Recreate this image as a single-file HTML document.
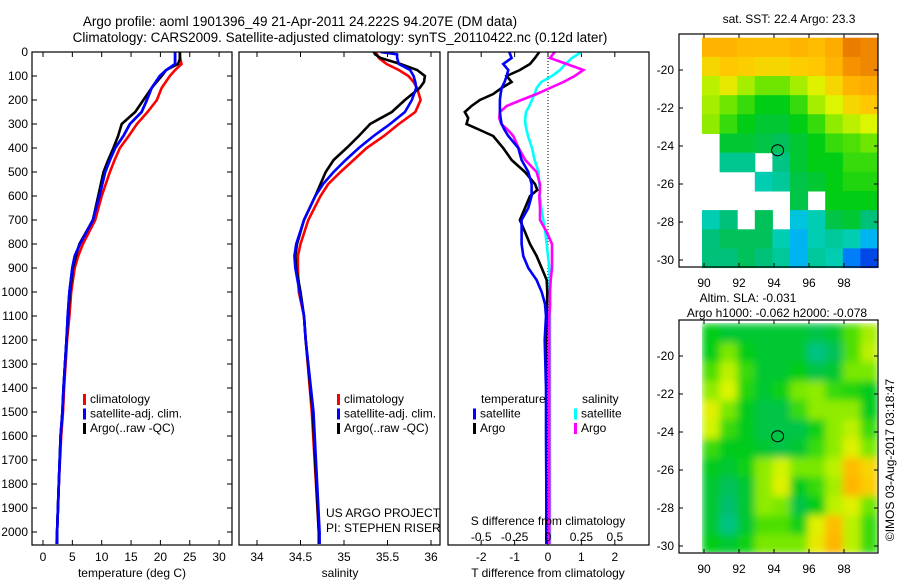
<!DOCTYPE html>
<html><head><meta charset="utf-8"><style>
html,body{margin:0;padding:0;background:#fff;}
svg{display:block;font-family:"Liberation Sans",sans-serif;}
text{font-size:12px;fill:#000;}
</style></head><body>
<svg id="c" width="900" height="580" viewBox="0 0 900 580"></svg>
<script>
// ---- data ----
const tDepth=[0,30,50,75,100,150,200,250,300,350,400,450,500,600,700,800,850,900,1000,1100,1200,1400,1500,1600,1800,2000,2050];
const tClim=[23.3,23.4,23.6,22.5,21.6,20.2,19.4,17.8,16.0,14.6,13.1,12.2,11.4,10.0,8.9,6.8,6.0,5.4,4.8,4.5,4.1,3.6,3.4,3.1,2.7,2.4,2.3];
const tSat=[22.5,22.5,22.5,21.0,19.9,18.5,17.7,16.8,14.8,13.7,12.3,11.4,10.6,9.6,8.5,6.3,5.4,5.0,4.5,4.2,4.0,3.5,3.3,3.0,2.7,2.4,2.4];
const tArgo=[23.3,23.3,23.0,21.0,20.2,18.5,17.1,15.7,13.4,12.8,12.0,11.1,10.3,9.4,8.5,6.2,5.6,5.1,4.6,4.3,4.0,3.5,3.3,3.0,2.7,2.4,2.4];
const sDepth=[0,10,25,50,75,100,125,150,200,250,300,350,400,450,500,550,600,700,800,850,900,1000,1100,1200,1500,2000,2050];
const sClim=[35.36,35.38,35.40,35.49,35.63,35.74,35.80,35.84,35.88,35.82,35.63,35.46,35.26,35.11,34.96,34.82,34.73,34.59,34.50,34.47,34.47,34.48,34.54,34.56,34.63,34.71,34.72];
const sSat=[35.42,35.61,35.61,35.63,35.76,35.80,35.82,35.83,35.78,35.70,35.53,35.34,35.17,35.02,34.88,34.76,34.67,34.54,34.45,34.43,34.44,34.49,34.54,34.56,34.65,34.72,34.72];
const sArgo=[35.34,35.36,35.42,35.65,35.84,35.93,35.92,35.87,35.70,35.55,35.30,35.17,35.03,34.88,34.79,34.73,34.67,34.54,34.46,34.44,34.45,34.50,34.54,34.56,34.64,34.71,34.71];
const dDepth=[0,25,50,75,100,125,150,175,200,225,250,275,300,325,350,400,450,500,550,575,600,650,700,750,800,850,900,950,1000,1050,1100,1200,1400,1600,1800,2000,2050];
const dTSat=[-1.16,-1.09,-1.34,-1.19,-1.24,-1.3,-1.39,-1.42,-1.44,-1.44,-1.44,-1.42,-1.39,-1.3,-1.19,-0.89,-0.79,-0.59,-0.49,-0.49,-0.49,-0.59,-0.79,-0.79,-0.79,-0.74,-0.59,-0.34,-0.19,-0.09,-0.06,-0.1,-0.06,-0.06,-0.05,-0.05,-0.05];
const dTArgo=[-0.26,-0.39,-0.54,-0.84,-1.24,-1.09,-1.39,-1.64,-2.04,-2.29,-2.49,-2.39,-2.44,-2.04,-1.64,-1.34,-1.09,-0.69,-0.39,-0.32,-0.54,-0.69,-0.84,-0.69,-0.54,-0.34,-0.19,-0.04,-0.02,-0.03,-0.04,-0.05,-0.05,-0.05,-0.05,-0.05,-0.05];
const dSSat=[0.25,0.18,0.13,0.09,0.03,-0.05,-0.085,-0.1,-0.12,-0.14,-0.165,-0.17,-0.17,-0.16,-0.15,-0.12,-0.1,-0.07,-0.065,-0.06,-0.06,-0.05,-0.035,-0.02,-0.01,0,0.01,0.012,0.015,0.015,0.015,0.015,0.015,0.015,0.015,0.015,0.015];
const dSArgo=[0.05,0.015,0.14,0.265,0.2,0.115,0.015,-0.085,-0.2,-0.31,-0.36,-0.365,-0.35,-0.3,-0.26,-0.22,-0.17,-0.085,-0.06,-0.06,-0.065,-0.06,-0.06,-0.01,0.03,0.03,0.03,0.02,0.015,0.015,0.01,0.01,0.01,0.01,0.01,0.01,0.01];
const depthTicks=[0,100,200,300,400,500,600,700,800,900,1000,1100,1200,1300,1400,1500,1600,1700,1800,1900,2000];
const tTicks=[0,5,10,15,20,25,30];
const sTicks=[34,34.5,35,35.5,36];
const dTTicks=[-2,-1,0,1,2];
const dSTicks=[-0.5,-0.25,0,0.25,0.5];
const dSTickLabels=["-0.5","-0.25","0","0.25","0.5"];
const lonTicks=[90,92,94,96,98];
const latTicks=[-20,-22,-24,-26,-28,-30];
const N=null;
const sstGrid=[
[0.8,0.8,0.78,0.78,0.78,0.8,0.78,0.82,0.92,0.9],
[0.72,0.75,0.74,0.72,0.72,0.74,0.75,0.8,0.88,0.9],
[0.62,0.68,0.6,0.55,0.55,0.6,0.66,0.72,0.8,0.82],
[0.6,0.55,0.5,0.45,0.45,0.5,0.6,0.65,0.72,0.75],
[0.58,0.5,0.45,0.42,0.42,0.45,0.5,0.58,0.62,0.65],
[N,0.42,0.42,0.4,0.38,0.42,0.45,0.5,0.52,0.55],
[N,0.33,0.33,N,0.34,0.42,0.45,0.45,0.5,0.5],
[N,N,N,0.3,0.32,0.4,0.42,0.45,0.48,0.48],
[N,N,N,N,N,0.4,N,0.45,0.45,0.45],
[0.3,0.35,N,0.38,N,0.25,0.3,0.4,0.42,0.35],
[0.35,0.38,0.38,0.38,0.3,0.22,0.3,0.32,0.3,0.22],
[0.35,0.35,0.38,0.35,0.32,0.22,0.32,0.3,0.15,0.08]];
const slaGrid=[
[0.45,0.42,0.42,0.42,0.42,0.42,0.4,0.42,0.52,0.6],
[0.45,0.56,0.45,0.42,0.42,0.42,0.34,0.38,0.52,0.62],
[0.52,0.62,0.5,0.42,0.42,0.45,0.4,0.42,0.56,0.56],
[0.58,0.65,0.48,0.42,0.46,0.56,0.58,0.5,0.48,0.44],
[0.66,0.56,0.44,0.4,0.4,0.5,0.58,0.58,0.58,0.44],
[0.64,0.5,0.44,0.4,0.4,0.4,0.46,0.58,0.62,0.5],
[0.5,0.44,0.44,0.42,0.4,0.42,0.5,0.58,0.66,0.56],
[0.44,0.42,0.46,0.58,0.64,0.56,0.56,0.62,0.78,0.72],
[0.42,0.38,0.42,0.58,0.66,0.44,0.5,0.6,0.8,0.74],
[0.42,0.36,0.42,0.58,0.56,0.4,0.45,0.62,0.66,0.55],
[0.42,0.34,0.42,0.52,0.52,0.46,0.66,0.78,0.62,0.5],
[0.45,0.42,0.46,0.56,0.56,0.56,0.68,0.8,0.62,0.5]];
const argoLon=[94.207];
const argoLat=[-24.222];

// ---- helpers ----
const svg=document.getElementById('c');
const NS='http://www.w3.org/2000/svg';
function el(tag,attrs,parent){const e=document.createElementNS(NS,tag);for(const k in attrs)e.setAttribute(k,attrs[k]);(parent||svg).appendChild(e);return e;}
function txt(s,x,y,anchor,parent,size){const t=el('text',{x:x,y:y,'text-anchor':anchor||'start'},parent);if(size)t.style.fontSize=size+'px';t.textContent=s;return t;}
const yD=d=>52+0.24*d;
const xT=v=>43+5.87*v;
const xS=v=>257+87*(v-34);
const xDT=v=>548+33.4*v;
const xDS=v=>548+133.6*v;
const lonX=l=>704+17.5*(l-90);
const latY=(l,off)=>70+off+19*(-l-20);

const clip=el('clipPath',{id:'pc'},el('defs',{}));
el('rect',{x:0,y:52,width:660,height:493},clip);

const t1=txt('Argo profile: aoml 1901396_49 21-Apr-2011 24.222S 94.207E (DM data)',300,26,'middle',null,13.5);

const t2=txt('Climatology: CARS2009. Satellite-adjusted climatology: synTS_20110422.nc (0.12d later)',340,42,'middle',null,13.5);


function frame(x0,x1,name){const r=el('rect',{x:x0,y:52,width:x1-x0,height:493,fill:'none',stroke:'#000','stroke-width':1.2});}
function line(xs,ds,xf,color,name,g){
  const pts=xs.map((v,i)=>xf(v).toFixed(1)+','+yD(ds[i]).toFixed(1)).join(' ');
  const p=el('polyline',{points:pts,fill:'none',stroke:color,'stroke-width':2.6,'clip-path':'url(#pc)'},g);
  
}
function xTicks(vals,xf,labels,yl,g){vals.forEach((v,i)=>{const x=xf(v);
  el('line',{x1:x,y1:52,x2:x,y2:57,stroke:'#000'},g);el('line',{x1:x,y1:545,x2:x,y2:540,stroke:'#000'},g);
  if(labels){const t=txt(labels[i],x,yl,'middle',g);}});}
function legend(x,y,items,g){items.forEach((it,i)=>{el('rect',{x:x,y:y+i*14.5-9,width:3,height:11,fill:it[0]},g);
  const t=txt(it[1],x+7,y+i*14.5,'start',g);});}

const g1=el('g',{});
frame(32,232,'temperature-frame');
depthTicks.forEach(d=>{const y=yD(d);el('line',{x1:32,y1:y,x2:37,y2:y,stroke:'#000'},g1);el('line',{x1:232,y1:y,x2:227,y2:y,stroke:'#000'},g1);
  const t=txt(String(d),28,y+4,'end',g1);});
xTicks(tTicks,xT,tTicks.map(String),561,g1);
line(tClim,tDepth,xT,'#f00','temp-climatology-line',g1);
line(tSat,tDepth,xT,'#00f','temp-satellite-line',g1);
line(tArgo,tDepth,xT,'#000','temp-argo-line',g1);
line(tSat,tDepth,xT,'#00f','temp-satellite-line-top',g1);
legend(83,403,[['#f00','climatology'],['#00f','satellite-adj. clim.'],['#000','Argo(..raw -QC)']],g1);
const xl1=txt('temperature (deg C)',132,577,'middle',g1);

const g2=el('g',{});
frame(239,440,'salinity-frame');
xTicks(sTicks,xS,sTicks.map(String),561,g2);
line(sClim,sDepth,xS,'#f00','sal-climatology-line',g2);
line(sArgo,sDepth,xS,'#000','sal-argo-line',g2);
line(sSat,sDepth,xS,'#00f','sal-satellite-line',g2);
legend(337,403,[['#f00','climatology'],['#00f','satellite-adj. clim.'],['#000','Argo(..raw -QC)']],g2);
txt('US ARGO PROJECT',326,517,'start',g2);
txt('PI: STEPHEN RISER',326,532,'start',g2);
const xl2=txt('salinity',340,577,'middle',g2);

const g3=el('g',{});
frame(448,649,'difference-frame');
xTicks(dTTicks,xDT,dTTicks.map(String),561,g3);
el('line',{x1:548,y1:52,x2:548,y2:545,stroke:'#000','stroke-dasharray':'1,2'},g3);
line(dSSat,dDepth,xDS,'#0ff','sal-diff-satellite-line',g3);
line(dSArgo,dDepth,xDS,'#f0f','sal-diff-argo-line',g3);
line(dTArgo,dDepth,xDT,'#000','temp-diff-argo-line',g3);
line(dTSat,dDepth,xDT,'#00f','temp-diff-satellite-line',g3);
txt('temperature',481,403,'start',g3);
legend(473,417.5,[['#00f','satellite'],['#000','Argo']],g3);
txt('salinity',582,403,'start',g3);
legend(574,417.5,[['#0ff','satellite'],['#f0f','Argo']],g3);
txt('S difference from climatology',548,525,'middle',g3);
dSTicks.forEach((v,i)=>{const t=txt(dSTickLabels[i],xDS(v),541,'middle',g3);});
const xl3=txt('T difference from climatology',548,577,'middle',g3);

const stops=[[0,[0,40,200]],[0.1,[0,80,240]],[0.2,[0,170,255]],[0.28,[0,210,200]],[0.36,[0,190,110]],[0.45,[0,205,20]],[0.55,[110,230,0]],[0.65,[220,245,0]],[0.75,[255,200,0]],[0.85,[255,160,0]],[0.95,[225,110,0]],[1,[200,90,0]]];
function cmap(v){for(let i=1;i<stops.length;i++){if(v<=stops[i][0]){const a=stops[i-1],b=stops[i];const f=(v-a[0])/(b[0]-a[0]);
  const c=a[1].map((x,k)=>Math.round(x+(b[1][k]-x)*f));return 'rgb('+c.join(',')+')';}}return 'rgb(200,90,0)';}

function map(grid,off,name,blur){
  const g=el('g',{});
  if(blur){const cp=el('clipPath',{id:'mc'+off},el('defs',{}));el('rect',{x:702,y:37+off,width:175,height:229},cp);}
  const gc=el('g',blur?{'clip-path':'url(#mc'+off+')'}:{},g);
  const gi=el('g',blur?{filter:'url(#bl)'}:{},gc);
  const y0=latY(-18.3,off),y1=latY(-30.4,off);
  const rh=(y1-y0)/grid.length;
  grid.forEach((row,r)=>row.forEach((v,c)=>{if(v===null)return;
    const cell=el('rect',{x:(702+c*17.6).toFixed(1),y:(y0+r*rh).toFixed(1),width:18.1,height:(rh+0.5).toFixed(1),fill:cmap(v)},gi);
    }));
  el('rect',{x:679,y:34+off,width:199,height:233,fill:'none',stroke:'#000','stroke-width':1.2},g);
  lonTicks.forEach(l=>{const x=lonX(l);el('line',{x1:x,y1:34+off,x2:x,y2:38+off,stroke:'#000'},g);el('line',{x1:x,y1:267+off,x2:x,y2:263+off,stroke:'#000'},g);
    const t=txt(String(l),x,287+off,'middle',g);});
  latTicks.forEach(l=>{const y=latY(l,off);el('line',{x1:679,y1:y,x2:683,y2:y,stroke:'#000'},g);el('line',{x1:878,y1:y,x2:874,y2:y,stroke:'#000'},g);
    const t=txt(String(l),674,y+4,'end',g);});
  argoLon.forEach((lo,i)=>{const c=el('ellipse',{cx:lonX(lo),cy:latY(argoLat[i],off),rx:6,ry:5.5,fill:'none',stroke:'#000','stroke-width':1},g);
    });
  return g;
}
const f=el('filter',{id:'bl',x:'-10%',y:'-10%',width:'120%',height:'120%'},el('defs',{}));
el('feGaussianBlur',{stdDeviation:4,edgeMode:'duplicate'},f);
map(sstGrid,0,'sst-map',false);
map(slaGrid,286,'sla-map',true);
txt('sat. SST: 22.4  Argo: 23.3',789,23,'middle');
txt('Altim. SLA: -0.031',748,302,'middle');
txt('Argo h1000: -0.062 h2000: -0.078',777,317,'middle');
const cr=txt('©IMOS 03-Aug-2017 03:18:47',0,0,'middle');
cr.setAttribute('transform','translate(894,460) rotate(-90)');

</script>
</body></html>
